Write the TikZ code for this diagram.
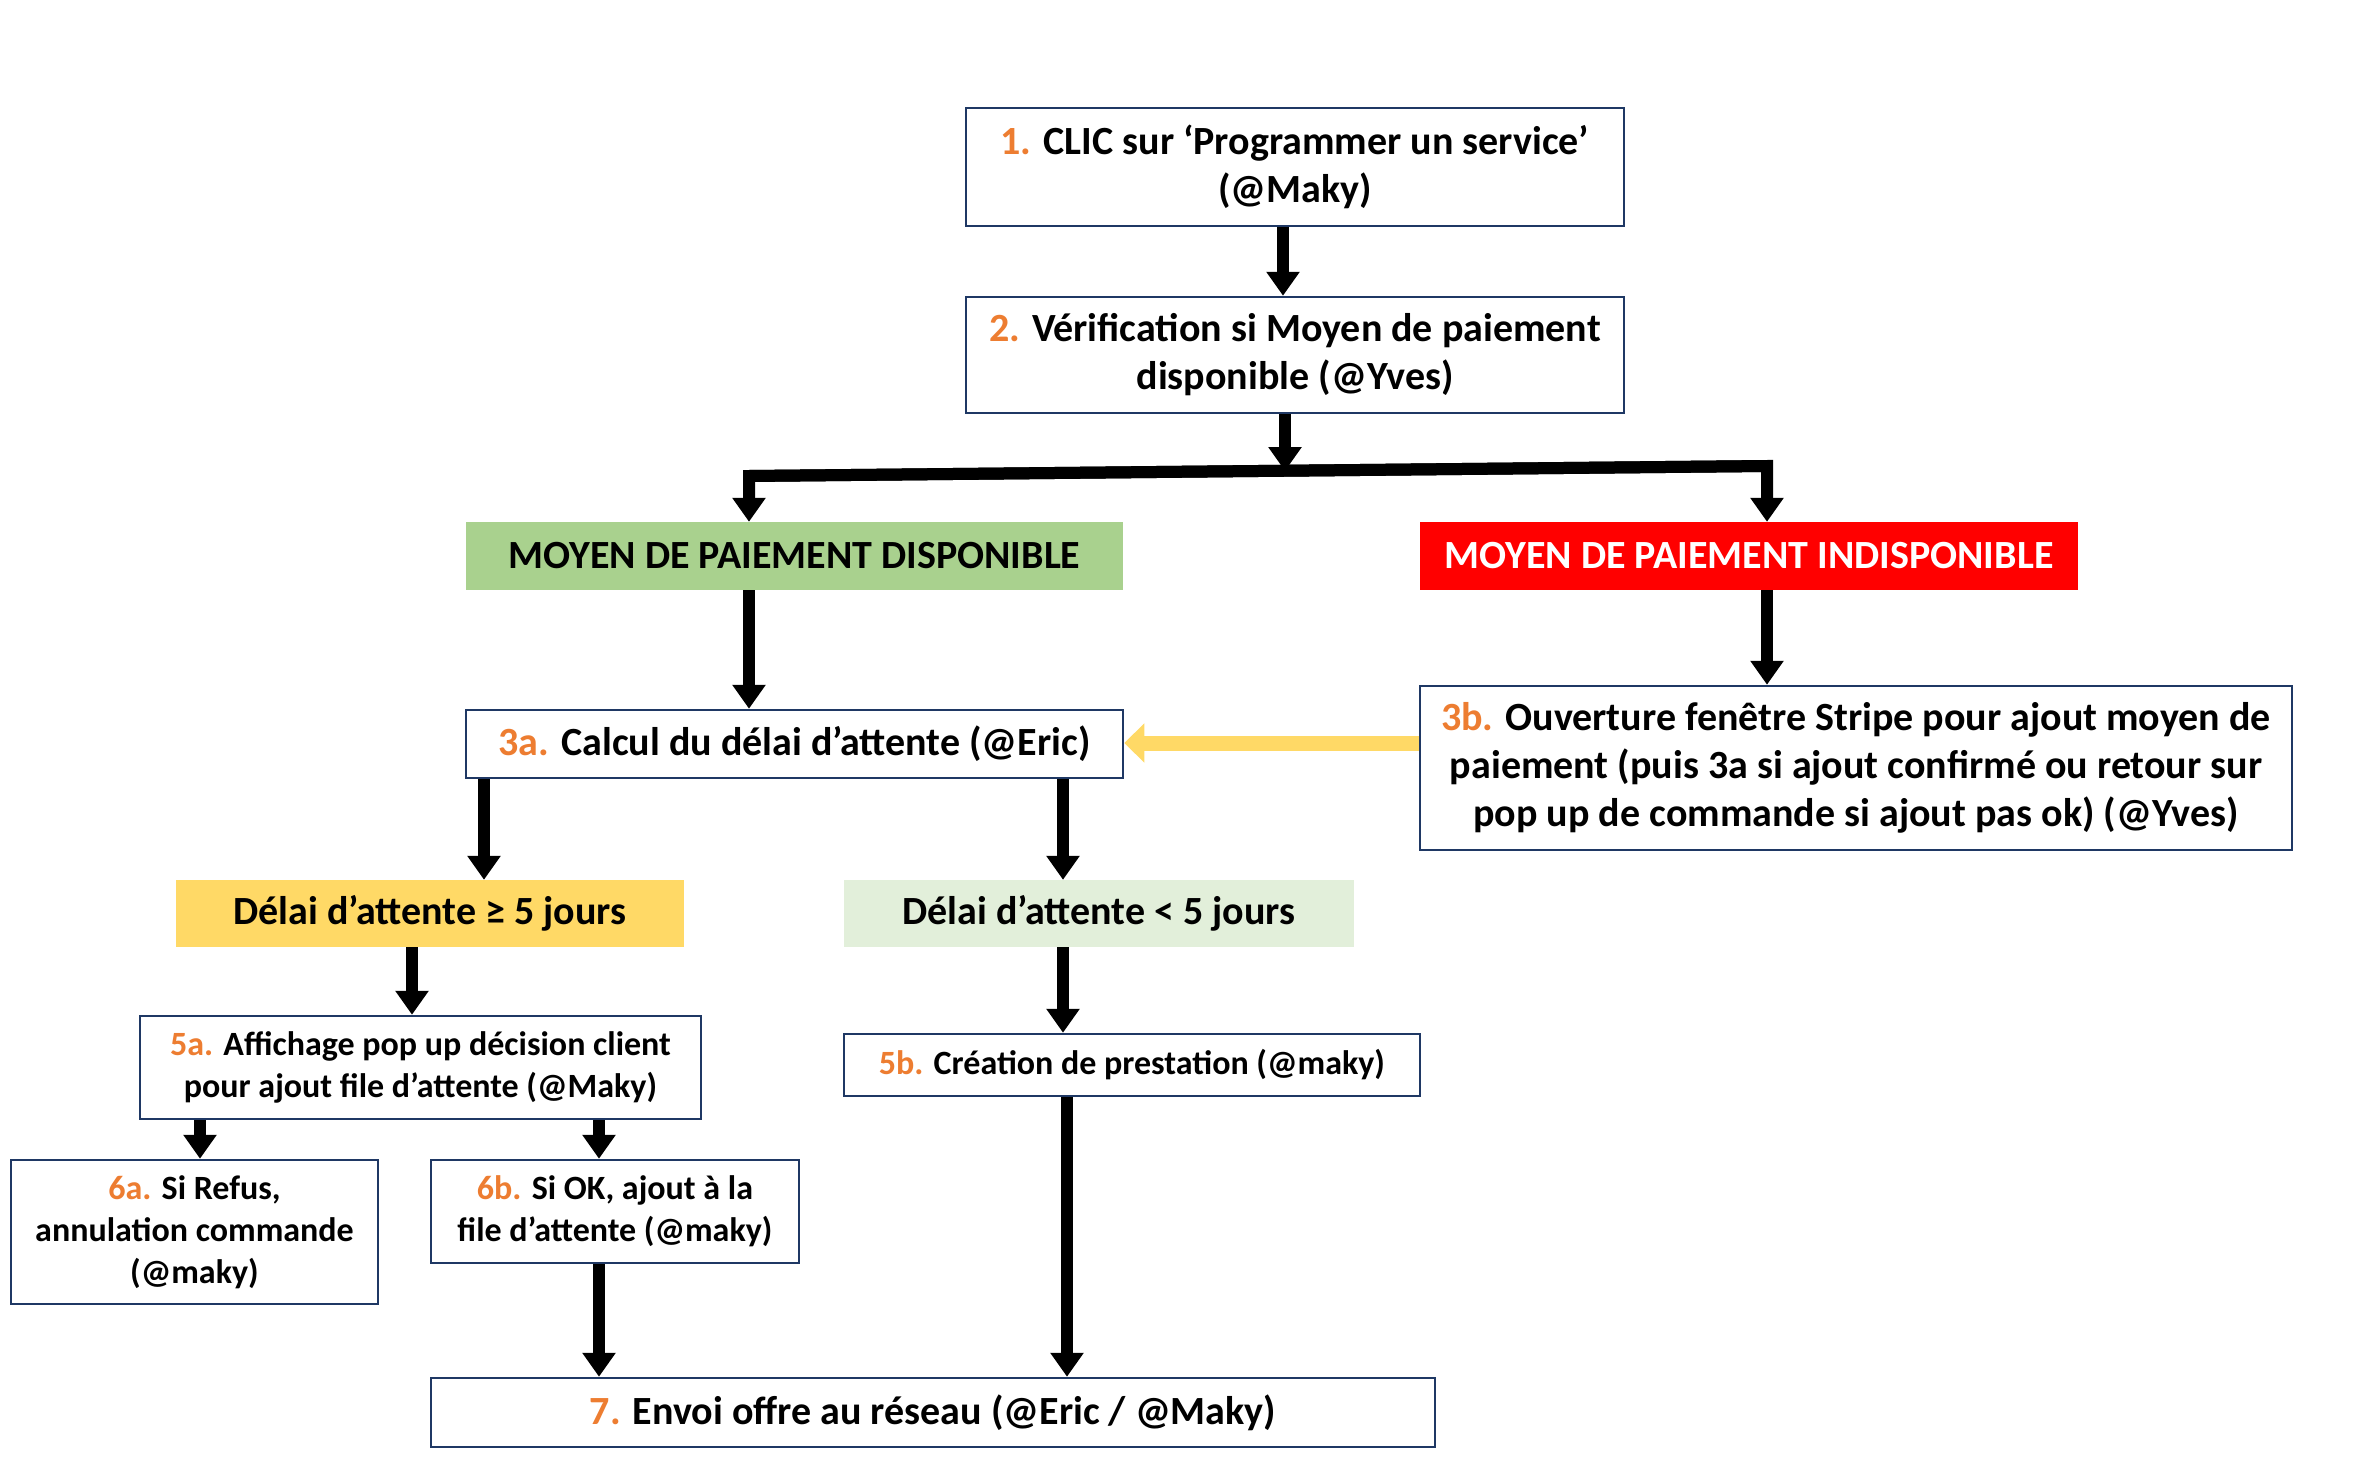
\documentclass[tikz,border=0pt]{standalone}
\usepackage{fontspec}
\setmainfont{Carlito}
\usetikzlibrary{arrows.meta}

\definecolor{numorange}{HTML}{ED7D31}
\definecolor{boxblue}{HTML}{1F3864}
\definecolor{okgreen}{HTML}{A9D18E}
\definecolor{kored}{HTML}{FF0000}
\definecolor{waityellow}{HTML}{FFD966}
\definecolor{palegreen}{HTML}{E2EFDA}

\newcommand{\stepnum}[1]{{\color{numorange}#1}}

\tikzset{
  stepbox/.style={draw=boxblue, line width=2.5pt, fill=white, align=center, inner sep=0pt,
    font=\fontsize{40}{48}\selectfont\bfseries},
  smallbox/.style={stepbox, font=\fontsize{34}{42}\selectfont\bfseries},
  tagbox/.style={align=center, inner sep=0pt, font=\fontsize{40}{48}\selectfont\bfseries},
  flow/.style={line width=12pt, line join=miter, -{Triangle[width=32pt,length=24pt]}},
  back/.style={line width=15pt, waityellow, -{Triangle[width=38pt,length=20pt]}},
}

\begin{document}
\begin{tikzpicture}[x=1pt,y=-1pt]
\useasboundingbox (0,0) rectangle (2364,1474);

% boxes
\node[stepbox,minimum width=658pt,minimum height=118pt] (clic) at (1295,167) {\stepnum{1.} CLIC sur ‘Programmer un service’\\(@Maky)};
\node[stepbox,minimum width=658pt,minimum height=116pt] (verif) at (1295,355) {\stepnum{2.} Vérification si Moyen de paiement\\disponible (@Yves)};
\node[tagbox,fill=okgreen,minimum width=657pt,minimum height=68pt] (dispo) at (794.5,556) {MOYEN DE PAIEMENT DISPONIBLE};
\node[tagbox,fill=kored,text=white,minimum width=658pt,minimum height=68pt] (indispo) at (1749,556) {MOYEN DE PAIEMENT INDISPONIBLE};
\node[stepbox,minimum width=657pt,minimum height=68pt] (calcul) at (794.5,744) {\stepnum{3a.} Calcul du délai d’attente (@Eric)};
\node[stepbox,minimum width=872pt,minimum height=164pt] (stripe) at (1856,768) {\stepnum{3b.} Ouverture fenêtre Stripe pour ajout moyen de\\paiement (puis 3a si ajout confirmé ou retour sur\\pop up de commande si ajout pas ok) (@Yves)};
\node[tagbox,fill=waityellow,minimum width=508pt,minimum height=67pt] (sup5) at (430,913.5) {Délai d’attente ≥ 5 jours};
\node[tagbox,fill=palegreen,minimum width=510pt,minimum height=67pt] (inf5) at (1099,913.5) {Délai d’attente < 5 jours};
\node[smallbox,minimum width=561pt,minimum height=103pt] (popup) at (420.5,1067.5) {\stepnum{5a.} Affichage pop up décision client\\pour ajout file d’attente (@Maky)};
\node[smallbox,minimum width=576pt,minimum height=62pt] (creation) at (1132,1065) {\stepnum{5b.} Création de prestation (@maky)};
\node[smallbox,minimum width=367pt,minimum height=144pt] (refus) at (194.5,1232) {\stepnum{6a.} Si Refus,\\annulation commande\\(@maky)};
\node[smallbox,minimum width=368pt,minimum height=103pt] (ajout) at (615,1211.5) {\stepnum{6b.} Si OK, ajout à la\\file d’attente (@maky)};
\node[stepbox,minimum width=1004pt,minimum height=69pt] (envoi) at (933,1412.5) {\stepnum{7.} Envoi offre au réseau (@Eric / @Maky)};

% fork
\coordinate (fork) at (1285,471);
\coordinate (forkL) at (749,476);
\coordinate (forkR) at (1767,466);

% arrows
\draw[flow] (clic.south -| 1283,0) -- (verif.north -| 1283,0);
\draw[flow] (verif.south -| fork) -- (fork);
\draw[flow] (forkR) -- (forkL) -- (dispo.north -| forkL);
\draw[flow] (forkL) -- (forkR) -- (indispo.north -| forkR);
\draw[flow] (dispo.south -| forkL) -- (calcul.north -| forkL);
\draw[flow] (indispo.south -| forkR) -- (stripe.north -| forkR);
\draw[back] (stripe.west |- 0,743) -- (calcul.east |- 0,743);
\draw[flow] (calcul.south -| 484,0) -- (sup5.north -| 484,0);
\draw[flow] (calcul.south -| 1063,0) -- (inf5.north -| 1063,0);
\draw[flow] (sup5.south -| 412,0) -- (popup.north -| 412,0);
\draw[flow] (inf5.south -| 1063,0) -- (creation.north -| 1063,0);
\draw[flow] (popup.south -| 200,0) -- (refus.north -| 200,0);
\draw[flow] (popup.south -| 599,0) -- (ajout.north -| 599,0);
\draw[flow] (ajout.south -| 599,0) -- (envoi.north -| 599,0);
\draw[flow] (creation.south -| 1067,0) -- (envoi.north -| 1067,0);
\end{tikzpicture}
\end{document}
